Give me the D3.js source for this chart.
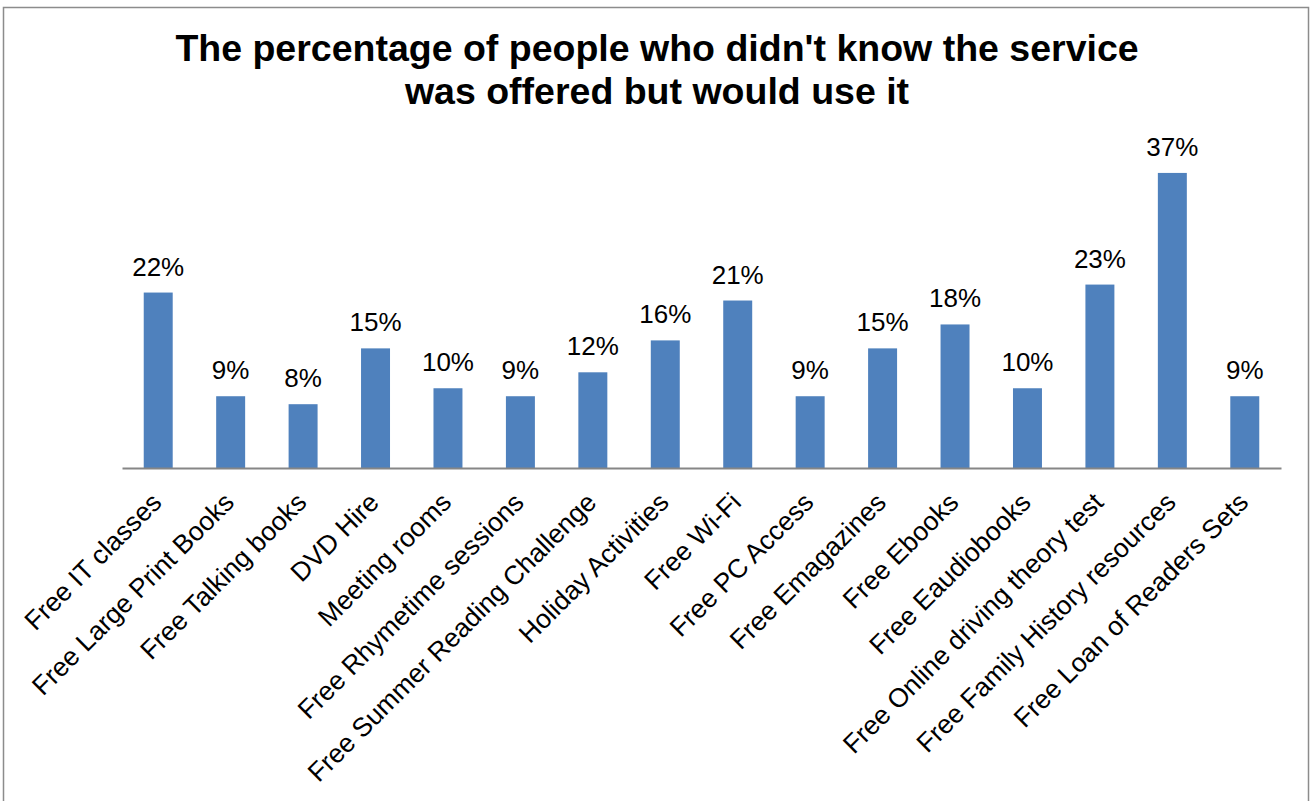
<!DOCTYPE html>
<html>
<head>
<meta charset="utf-8">
<script src="https://cdn.jsdelivr.net/npm/d3@7/dist/d3.min.js"></script>
<style>
  html, body { margin: 0; padding: 0; background: #fff; }
  svg { display: block; }
</style>
</head>
<body>
<svg id="chart" width="1311" height="801"></svg>
<script>
// Library services people didn't know about but would use
const titleLines = [
  "The percentage of people who didn't know the service",
  "was offered but would use it"
];
const categories = [
  "Free IT classes", "Free Large Print Books", "Free Talking books", "DVD Hire",
  "Meeting rooms", "Free Rhymetime sessions", "Free Summer Reading Challenge",
  "Holiday Activities", "Free Wi-Fi", "Free PC Access", "Free Emagazines",
  "Free Ebooks", "Free Eaudiobooks", "Free Online driving theory test",
  "Free Family History resources", "Free Loan of Readers Sets"
];
const values = [0.22, 0.09, 0.08, 0.15, 0.10, 0.09, 0.12, 0.16, 0.21, 0.09, 0.15, 0.18, 0.10, 0.23, 0.37, 0.09];
const yDomain = [0, 0.40];

const svg = d3.select("#chart");
const font = "'Liberation Sans', Arial, sans-serif";

// outer chart frame
svg.append("rect")
  .attr("x", 3.5).attr("y", 7.5)
  .attr("width", 1305).attr("height", 800)
  .attr("fill", "#fff")
  .attr("stroke", "#8c8c8c").attr("stroke-width", 1.5);

// title
svg.append("text")
  .attr("text-anchor", "middle")
  .attr("font-family", font)
  .attr("font-weight", "bold")
  .attr("font-size", 37.5)
  .attr("fill", "#000")
  .selectAll("tspan")
  .data(titleLines)
  .join("tspan")
  .attr("x", 657)
  .attr("y", (d, i) => 61 + i * 43)
  .text(d => d);

const x = d3.scaleBand()
  .domain(categories)
  .range([122, 1281])
  .paddingInner(0.6)
  .paddingOuter(0.3);

const baseY = 468;
const y = d3.scaleLinear().domain(yDomain).range([baseY, 149]);

const data = categories.map((c, i) => ({ c, v: values[i] }));

// bars
svg.append("g")
  .selectAll("rect")
  .data(data)
  .join("rect")
  .attr("x", d => x(d.c))
  .attr("y", d => y(d.v))
  .attr("width", x.bandwidth())
  .attr("height", d => y(0) - y(d.v))
  .attr("fill", "#4f81bd");

// value labels
const pct = d3.format(".0%");
svg.append("g")
  .selectAll("text")
  .data(data)
  .join("text")
  .attr("x", d => x(d.c) + x.bandwidth() / 2)
  .attr("y", d => y(d.v) - 17)
  .attr("text-anchor", "middle")
  .attr("font-family", font)
  .attr("font-size", 26)
  .attr("fill", "#000")
  .text(d => pct(d.v));

// category axis
const axis = svg.append("g")
  .attr("transform", `translate(0,${baseY})`)
  .call(d3.axisBottom(x).tickSize(0).tickSizeOuter(0));
axis.select(".domain")
  .attr("stroke", "#868686")
  .attr("stroke-width", 2);
axis.selectAll(".tick text")
  .attr("font-family", font)
  .attr("font-size", 26.5)
  .attr("fill", "#000")
  .attr("text-anchor", "end")
  .attr("dy", 0)
  .attr("y", 0)
  .attr("transform", "translate(5,36) rotate(-45)");
</script>
</body>
</html>
